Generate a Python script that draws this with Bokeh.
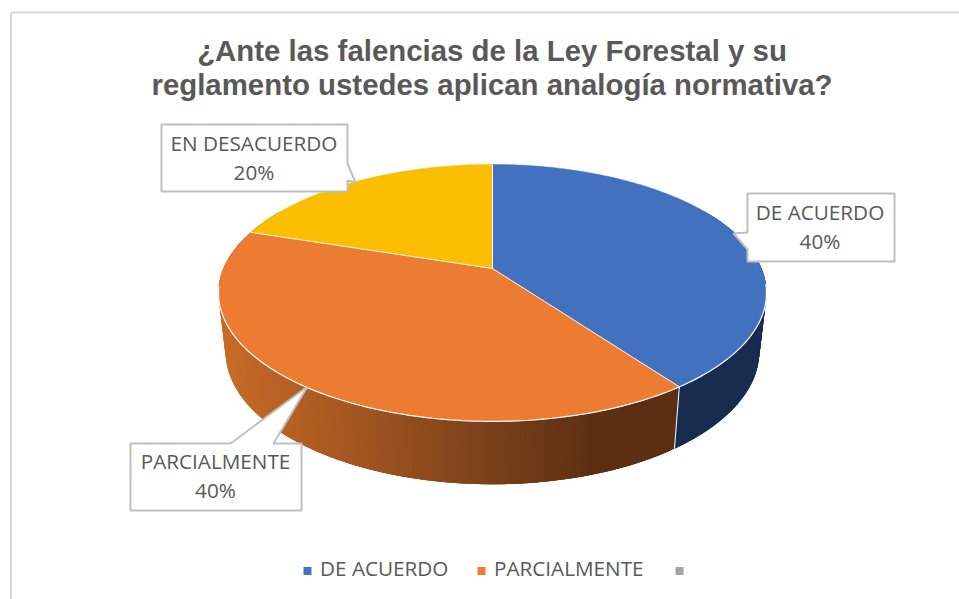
import numpy as np
from bokeh.plotting import figure
from bokeh.models import Range1d, ColumnDataSource
from bokeh.core.properties import value
from bokeh.embed import file_html
from bokeh.resources import INLINE

# ---- data ----
categories = ["DE ACUERDO", "PARCIALMENTE", "EN DESACUERDO"]
shares = [40, 40, 20]
percent_labels = ["40%", "40%", "20%"]
legend_labels = ["DE ACUERDO", "PARCIALMENTE", ""]
title_lines = ["¿Ante las falencias de la Ley Forestal y su",
               "reglamento ustedes aplican analogía normativa?"]

top_colors = ["#4271C0", "#EB7C31", "#FBBE00"]
legend_colors = ["#4472C4", "#ED7D31", "#A5A5A5"]
GREY = "#595959"
FONT = "Open Sans"
LABEL_SIZE = "20.7px"

# ---- pie geometry (perspective projection of a disc) ----
CX = 492
K = 0.19
TOP = dict(cy=268, A=269, B=123.8)
BOT = dict(cy=326, A=262, B=127.8)
TEXT_SHIFT = -9.5


def project(theta, g, r=1.0):
    x = r * np.sin(theta)
    y = r * np.cos(theta)
    d = 1 + K * y
    return CX + g["A"] * x / d, g["cy"] - g["B"] * y / d


p = figure(width=959, height=599, output_backend="svg", toolbar_location=None,
           x_range=Range1d(0, 959), y_range=Range1d(599, 0),
           x_axis_location=None, y_axis_location=None, min_border=0)
p.grid.visible = False
p.outline_line_color = None
p.background_fill_color = "white"

# chart frame
p.line([10.5, 10.5], [599, 12], line_color="#D9D9D9", line_width=2)
p.line([10.5, 959], [12, 12], line_color="#D9D9D9", line_width=2)

# slice angles from the values
total = sum(shares)
edges = np.cumsum([0] + shares) / total * 2 * np.pi
blue_end, orange_end = edges[1], edges[2]

# side wall
STOPS_X = [225, 300, 400, 480, 600, 680]
STOPS_R = [0xC8, 0xB6, 0x99, 0x80, 0x5E, 0x5C]
STOPS_G = [0x6C, 0x60, 0x50, 0x44, 0x30, 0x2E]
STOPS_B = [0x2A, 0x24, 0x20, 0x1C, 0x12, 0x12]


def wall(t0, t1, n, colorfn, reverse=False):
    # strips overlap their neighbour so that no seam shows between them
    ts = np.linspace(t0, t1, n + 1)
    dt = ts[1] - ts[0]
    xs, ys, cs = [], [], []
    for a in ts[:-1]:
        b = a + 3 * dt
        xa, ya = project(a, TOP)
        xb, yb = project(min(b, t1), TOP)
        xc, yc = project(min(b, t1), BOT)
        xd, yd = project(a, BOT)
        xs.append([float(v) for v in (xa, xb, xc, xd)])
        ys.append([float(v) for v in (ya, yb, yc, yd)])
        cs.append(colorfn((xa + xd) / 2))
    src = ColumnDataSource(dict(xs=xs[::-1], ys=ys[::-1], c=cs[::-1]))
    p.patches("xs", "ys", source=src, fill_color="c", line_color=None)


def orange_shade(x):
    r = int(np.interp(x, STOPS_X, STOPS_R))
    g = int(np.interp(x, STOPS_X, STOPS_G))
    b = int(np.interp(x, STOPS_X, STOPS_B))
    return f"#{r:02X}{g:02X}{b:02X}"


wall(np.radians(60), blue_end, 60, lambda x: "#182C50")
wall(blue_end, np.radians(300), 220, orange_shade)

# top face
for i in range(3):
    ts = np.linspace(edges[i], edges[i + 1], 160)
    ex, ey = project(ts, TOP)
    xs = [CX] + [float(v) for v in ex]
    ys = [TOP["cy"]] + [float(v) for v in ey]
    p.patch(xs, ys, fill_color=top_colors[i], line_color=top_colors[i], line_width=0.5)

# white hairlines
for e in edges[:3]:
    ex, ey = project(e, TOP)
    p.line([CX, float(ex)], [TOP["cy"], float(ey)], line_color="white", line_width=1, line_alpha=0.9)
ts = np.radians(np.linspace(97, 262, 160))
ex, ey = project(ts, TOP)
p.line(ex, ey, line_color="white", line_width=1.2)
ex0, ey0 = project(blue_end, TOP)
ex1, ey1 = project(blue_end, BOT)
p.line([float(ex0), float(ex1)], [float(ey0), float(ey1)], line_color="white", line_width=1)

# callouts
callouts = [
    dict(x=[747, 894, 894, 747, 747, 733, 747], y=[193, 193, 261, 261, 249, 233, 232],
         tx=819.5, base=[221, 250], cat=0),
    dict(x=[130, 230, 307, 273, 301, 301, 130], y=[443, 443, 386, 443, 443, 510, 510],
         tx=215, base=[470, 499], cat=1),
    dict(x=[161, 347, 347, 355, 347, 347, 161], y=[124, 124, 163, 182, 180, 191, 191],
         tx=253.5, base=[152, 181], cat=2),
]
for c in callouts:
    p.patch(c["x"], c["y"], fill_color="white", line_color="#BFBFBF", line_width=2)
    p.text([c["tx"]] * 2, [b + TEXT_SHIFT for b in c["base"]],
           text=[categories[c["cat"]], percent_labels[c["cat"]]],
           text_font=value(FONT), text_font_size=LABEL_SIZE, text_color=GREY,
           text_align="center", text_baseline="alphabetic")

# title
p.text([491.5, 491.5], [49.5, 83.5], text=title_lines, text_font=value("Liberation Sans"),
       text_font_style="bold", text_font_size="29.4px", text_color=GREY,
       text_align="center", text_baseline="alphabetic")

# legend
lx = [307, 481, 679]
p.rect(lx, [570.5] * 3, width=8, height=8, fill_color=legend_colors, line_color=None)
tx = [319.5, 493.5]
p.text(tx, [577 + TEXT_SHIFT] * 2, text=legend_labels[:2], text_font=value(FONT), text_font_size=LABEL_SIZE,
       text_color=GREY, text_align="left", text_baseline="alphabetic")

open("out.html", "w").write(file_html(p, INLINE))
